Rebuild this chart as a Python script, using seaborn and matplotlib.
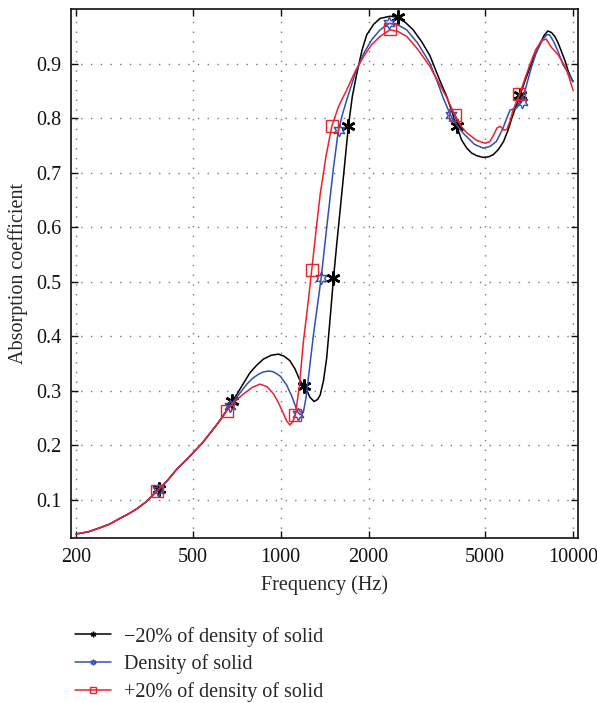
import matplotlib
matplotlib.use("Agg")
import matplotlib.pyplot as plt
from matplotlib.lines import Line2D
import seaborn as sns
import pandas as pd

# values
freq_common = [200, 220, 240, 260, 283, 300, 322, 345, 378, 410, 442, 470, 504, 540, 574, 600, 625]
alpha_common = [0.037, 0.041, 0.048, 0.055, 0.066, 0.073, 0.083, 0.095, 0.116, 0.135, 0.156,
                0.170, 0.187, 0.204, 0.222, 0.235, 0.248]

freq_minus = [682, 710, 740, 786, 830, 874, 930, 984, 1030, 1076, 1120, 1166, 1214, 1260,
              1302, 1340, 1366, 1402, 1438, 1476, 1517, 1556, 1595, 1648, 1706, 1760, 1820,
              1900, 1972, 2080, 2190, 2370, 2515, 2680, 2842, 3040, 3240, 3500, 3700, 4010,
              4160, 4335, 4500, 4690, 4930, 5150, 5340, 5550, 5790, 6000, 6180, 6590, 6850,
              7120, 7400, 7710, 7950, 8210, 8450, 8670, 8900, 9140, 9400, 9640, 10000]
alpha_minus = [0.279, 0.294, 0.310, 0.333, 0.347, 0.358, 0.365, 0.367, 0.363, 0.355, 0.340,
               0.318, 0.307, 0.288, 0.280, 0.284, 0.292, 0.318, 0.360, 0.430, 0.506, 0.568,
               0.626, 0.703, 0.785, 0.840, 0.880, 0.925, 0.953, 0.972, 0.983, 0.987, 0.985,
               0.975, 0.962, 0.940, 0.915, 0.870, 0.840, 0.785, 0.760, 0.745, 0.736, 0.731,
               0.728, 0.729, 0.733, 0.742, 0.757, 0.778, 0.800, 0.842, 0.868, 0.892, 0.915,
               0.935, 0.951, 0.960, 0.957, 0.950, 0.938, 0.922, 0.905, 0.886, 0.867]

freq_base = [670, 720, 767, 800, 840, 870, 908, 940, 970, 1000, 1024, 1050, 1070, 1090,
             1108, 1125, 1140, 1166, 1185, 1200, 1220, 1238, 1265, 1296, 1377, 1438, 1517,
             1576, 1630, 1685, 1800, 1922, 2050, 2190, 2356, 2520, 2700, 2950, 3240, 3420,
             3600, 3820, 4000, 4220, 4600, 4930, 5200, 5470, 5750, 5940, 6100, 6400, 6680,
             6940, 7200, 7510, 7900, 8150, 8320, 8600, 8900, 9250, 9640, 10000]
alpha_base = [0.271, 0.293, 0.312, 0.322, 0.330, 0.334, 0.336, 0.335, 0.331, 0.326, 0.318,
              0.310, 0.300, 0.291, 0.281, 0.271, 0.262, 0.256, 0.258, 0.264, 0.285, 0.312,
              0.355, 0.403, 0.507, 0.599, 0.709, 0.777, 0.808, 0.834, 0.882, 0.918, 0.944,
              0.962, 0.974, 0.971, 0.962, 0.937, 0.901, 0.870, 0.837, 0.805, 0.787, 0.772,
              0.752, 0.745, 0.748, 0.757, 0.780, 0.800, 0.815, 0.818, 0.830, 0.861, 0.892,
              0.922, 0.945, 0.953, 0.953, 0.940, 0.922, 0.898, 0.883, 0.867]

freq_plus = [655, 700, 747, 800, 851, 900, 946, 985, 1024, 1050, 1076, 1100, 1125, 1160,
             1197, 1238, 1278, 1320, 1366, 1430, 1497, 1580, 1685, 1800, 1922, 2050, 2190,
             2370, 2520, 2700, 2950, 3240, 3450, 3700, 3950, 4150, 4335, 4690, 5010, 5200,
             5340, 5500, 5640, 5800, 5940, 6100, 6240, 6560, 6850, 7120, 7450, 7800, 8100,
             8440, 8900, 9400, 9700, 10000]
alpha_plus = [0.263, 0.281, 0.294, 0.306, 0.312, 0.307, 0.294, 0.277, 0.257, 0.244, 0.237,
              0.243, 0.256, 0.310, 0.390, 0.455, 0.521, 0.590, 0.660, 0.730, 0.785, 0.822,
              0.852, 0.886, 0.913, 0.935, 0.950, 0.962, 0.959, 0.950, 0.926, 0.895, 0.868,
              0.838, 0.805, 0.785, 0.773, 0.759, 0.754, 0.757, 0.768, 0.782, 0.785, 0.778,
              0.779, 0.795, 0.815, 0.843, 0.872, 0.898, 0.925, 0.942, 0.945, 0.930, 0.916,
              0.895, 0.875, 0.852]

# marker positions of each series
mark_freq_minus = [385, 682, 1200, 1517, 1706, 2515, 4000, 6590]
mark_alpha_minus = [0.120, 0.281, 0.309, 0.506, 0.786, 0.985, 0.785, 0.843]
mark_freq_base = [380, 670, 1150, 1377, 1580, 2356, 3820, 6680]
mark_alpha_base = [0.117, 0.271, 0.257, 0.507, 0.778, 0.974, 0.805, 0.830]
mark_freq_plus = [378, 655, 1120, 1278, 1500, 2370, 3950, 6560]
mark_alpha_plus = [0.116, 0.263, 0.256, 0.521, 0.786, 0.963, 0.805, 0.845]

labels = ["\u221220% of density of solid", "Density of solid", "+20% of density of solid"]
colors = ["#000000", "#2f4fb3", "#f0202a"]
markers = [(6, 2, 0), (6, 1, 0), "s"]

sns.set_style("ticks")
plt.rcParams["font.family"] = ["Liberation Serif", "DejaVu Serif"]
plt.rcParams["font.size"] = 14.5

fig = plt.figure(figsize=(5.97, 7.03), dpi=100)
ax = fig.add_axes([0.119, 0.235, 0.849, 0.752])

series = [
    (freq_minus, alpha_minus, mark_freq_minus, mark_alpha_minus),
    (freq_base, alpha_base, mark_freq_base, mark_alpha_base),
    (freq_plus, alpha_plus, mark_freq_plus, mark_alpha_plus),
]
for i, (fx, fy, mx, my) in enumerate(series):
    df = pd.DataFrame({"f": freq_common + fx, "a": alpha_common + fy})
    sns.lineplot(data=df, x="f", y="a", ax=ax, color=colors[i], lw=1.1,
                 sort=False, estimator=None, legend=False)
    ax.plot(mx, my, ls="none", marker=markers[i], ms=[10, 9, 8][i],
            mec=colors[i], mfc="none", mew=[1.8, 1.0, 1.0][i])

ax.set_xscale("log")
ax.set_xlim(192, 10400)
ax.set_ylim(0.03, 1.0)
ax.set_xticks([200, 500, 1000, 2000, 5000, 10000])
ax.set_xticklabels(["200", "500", "1000", "2000", "5000", "10000"])
ax.minorticks_off()
ax.set_yticks([0.1, 0.2, 0.3, 0.4, 0.5, 0.6, 0.7, 0.8, 0.9])
ax.set_yticklabels(["0.1", "0.2", "0.3", "0.4", "0.5", "0.6", "0.7", "0.8", "0.9"])
ax.tick_params(direction="in", length=5, width=1, top=True, right=True, pad=7,
               labelsize=14.5, colors="#111111")
ax.grid(True, ls=(0, (1, 6)), color="#777777", lw=1)
for s in ax.spines.values():
    s.set_linewidth(1.2)
    s.set_color("#111111")
ax.set_xlabel("Frequency (Hz)", fontsize=14.5, labelpad=6)
ax.set_ylabel("Absorption coefficient", fontsize=14.5, labelpad=6)

handles = [Line2D([], [], color=colors[i], lw=1.1, marker=markers[i], ms=4,
                  mfc="none", mec=colors[i]) for i in range(3)]
fig.legend(handles, labels, loc="upper left", bbox_to_anchor=(0.108, 0.123),
           frameon=False, fontsize=14.5, handlelength=1.8, handletextpad=0.65,
           labelspacing=0.38, borderpad=0)

fig.savefig("out.png", dpi=100)
